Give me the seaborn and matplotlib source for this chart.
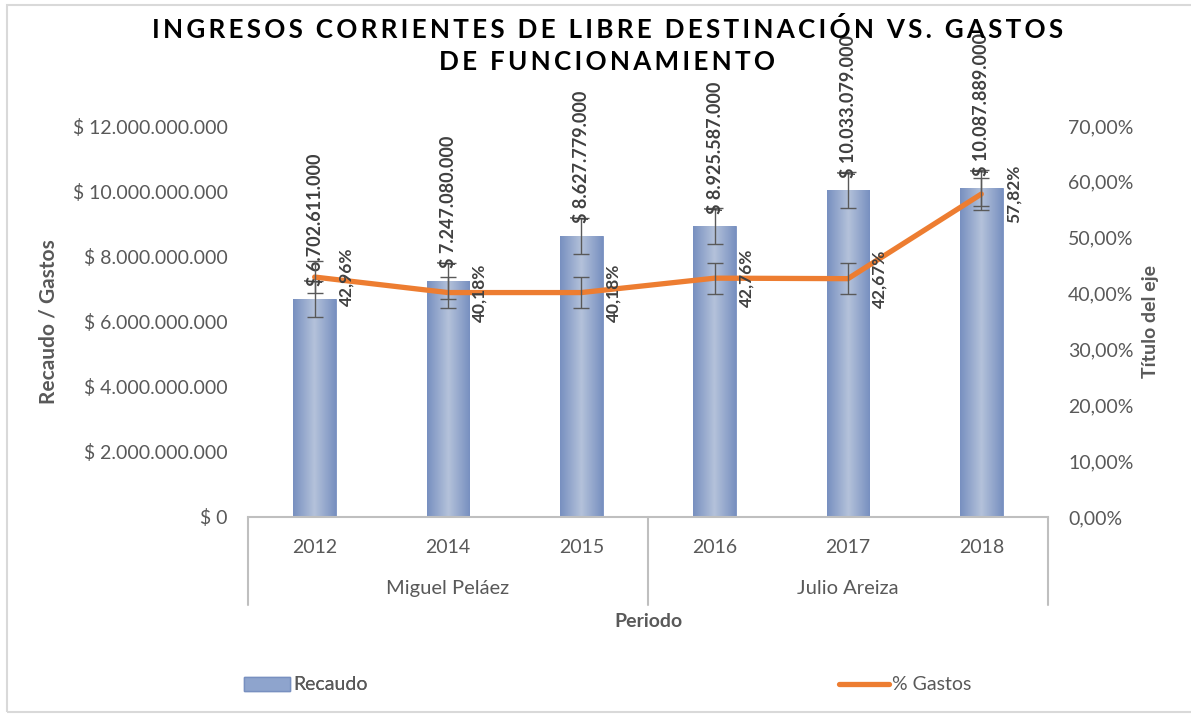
import matplotlib
matplotlib.use("Agg")
import matplotlib.pyplot as plt
import matplotlib.transforms as mtransforms
from matplotlib.patches import Rectangle, Patch
from matplotlib.lines import Line2D
import seaborn as sns
import numpy as np

years = ["2012", "2014", "2015", "2016", "2017", "2018"]
groups = ["Miguel Peláez", "Julio Areiza"]
group_sizes = [3, 3]
recaudo = [6702611000, 7247080000, 8627779000, 8925587000, 10033079000, 10087889000]
gastos = [42.96, 40.18, 40.18, 42.76, 42.67, 57.82]  # %
recaudo_err = [550000000] * 6
gastos_err = [2.8] * 6

left_ticks = [0, 2e9, 4e9, 6e9, 8e9, 10e9, 12e9]
right_ticks = [0, 10, 20, 30, 40, 50, 60, 70]

title_lines = ["INGRESOS CORRIENTES DE LIBRE DESTINACIÓN VS. GASTOS", "DE FUNCIONAMIENTO"]

GRAY = "#595959"
DARK = "#404040"
ORANGE = "#ED7D31"
FONT = ["Lato", "DejaVu Sans"]
FS = 14


def peso(v):
    if v == 0:
        return "$ 0"
    return "$ " + "{:,.0f}".format(v).replace(",", ".")


def pct(v):
    return "{:.2f}%".format(v).replace(".", ",")


def spaced(s):
    # excel title has extra letter spacing
    return "\u2009".join(s)


sns.set_style("white")
plt.rcParams["font.family"] = FONT

fig = plt.figure(figsize=(11.91, 7.15), dpi=100)
ax = fig.add_axes([248 / 1191, 1 - 517 / 715, 800 / 1191, 391 / 715])

x = np.arange(len(years))
sns.barplot(x=x, y=recaudo, ax=ax, color="#8EA4CD", width=0.32,
            errorbar=None, saturation=1, native_scale=True)

# horizontal gradient on bars, like the Excel fill
grad = np.linspace(0, 1, 64)
grad = 1 - np.abs(grad - 0.5) * 2
cmap = matplotlib.colors.LinearSegmentedColormap.from_list("b", ["#7890C0", "#B3C1DA"])
for p in ax.patches:
    bx, by = p.get_x(), p.get_y()
    w, h = p.get_width(), p.get_height()
    im = ax.imshow(grad[np.newaxis, :], cmap=cmap, aspect="auto",
                   extent=[bx, bx + w, by, by + h], zorder=2)
    im.set_clip_path(p)
    p.set_edgecolor("#7890C0")
    p.set_linewidth(0.6)

ax.errorbar(x, recaudo, yerr=recaudo_err, fmt="none", ecolor=GRAY,
            elinewidth=1, capsize=6, capthick=1, zorder=3)

ax.set_xlim(-0.5, 5.5)
ax.set_ylim(0, 12e9)
ax.set_yticks(left_ticks)
ax.set_yticklabels([peso(v) for v in left_ticks], color=GRAY, fontsize=FS)
ax.tick_params(axis="y", length=0, pad=14.5)
ax.set_xticks([])
for s in ["left", "right", "top"]:
    ax.spines[s].set_visible(False)
ax.spines["bottom"].set_color("#BFBFBF")
ax.spines["bottom"].set_linewidth(1.5)

for i, v in enumerate(recaudo):
    ax.annotate(peso(v), (i, v), xytext=(0, 9), textcoords="offset points",
                rotation=90, ha="center", va="bottom",
                fontsize=13, fontweight="bold", color=DARK, zorder=5)

ax2 = ax.twinx()
sns.lineplot(x=x, y=gastos, ax=ax2, color=ORANGE, linewidth=3.8, zorder=4)
ax2.errorbar(x, gastos, yerr=gastos_err, fmt="none", ecolor=GRAY,
             elinewidth=1, capsize=6, capthick=1, zorder=5)
ax2.set_ylim(0, 70)
ax2.set_yticks(right_ticks)
ax2.set_yticklabels([pct(v) for v in right_ticks], color=GRAY, fontsize=FS)
ax2.tick_params(axis="y", length=0, pad=14.5)
for s in ["left", "right", "top", "bottom"]:
    ax2.spines[s].set_visible(False)
ax2.set_ylabel("Título del eje", color=GRAY, fontsize=14, fontweight="bold", labelpad=6)

for i, v in enumerate(gastos):
    ax2.annotate(pct(v), (i, v), xytext=(23, 0), textcoords="offset points",
                 rotation=90, ha="center", va="center", fontsize=12.5,
                 fontweight="bold", color=DARK, zorder=6)

ax.set_ylabel("Recaudo / Gastos", color=GRAY, fontsize=15, fontweight="bold", labelpad=10)

# multi-level category axis
trans = mtransforms.blended_transform_factory(ax.transData, ax.transAxes)
bounds = np.concatenate([[0], np.cumsum(group_sizes)]) - 0.5
for b in bounds:
    ax.plot([b, b], [0, -0.225], transform=trans, color="#BFBFBF",
            linewidth=1.5, clip_on=False)
for i, yr in enumerate(years):
    ax.text(i, -0.079, yr, transform=trans, ha="center", va="center",
            fontsize=FS, color=GRAY)
for g, lo, hi in zip(groups, bounds[:-1], bounds[1:]):
    ax.text((lo + hi) / 2, -0.184, g, transform=trans, ha="center", va="center",
            fontsize=14.5, color=GRAY)
ax.text(2.5, -0.266, "Periodo", transform=trans, ha="center", va="center",
        fontsize=14, fontweight="bold", color=GRAY)

# title
fig.text(0.51, 1 - 30 / 715, spaced(title_lines[0]),
         ha="center", va="center", fontsize=18.7, fontweight="bold", color="black")
fig.text(0.51, 1 - 62 / 715, spaced(title_lines[1]),
         ha="center", va="center", fontsize=18.7, fontweight="bold", color="black")

# legend
h1 = Patch(facecolor="#8EA4CD", edgecolor="#7890C0")
h2 = Line2D([], [], color=ORANGE, linewidth=3.8)
leg1 = fig.legend([h1], ["Recaudo"], loc="center left", bbox_to_anchor=(226 / 1191, 1 - 685 / 715),
                  frameon=False, fontsize=FS, handlelength=2.4, handletextpad=0.15,
                  labelcolor=GRAY)
leg2 = fig.legend([h2], ["% Gastos"], loc="center left", bbox_to_anchor=(821 / 1191, 1 - 685 / 715),
                  frameon=False, fontsize=FS, handlelength=2.6, handletextpad=0.15,
                  labelcolor=GRAY)
fig.add_artist(leg1)

# chart area border
fig.patches.append(Rectangle((7 / 1191, 3 / 715), 1.2, 1 - 8 / 715, transform=fig.transFigure,
                             fill=False, edgecolor="#D9D9D9", linewidth=1.5))

fig.savefig("out.png", dpi=100)
